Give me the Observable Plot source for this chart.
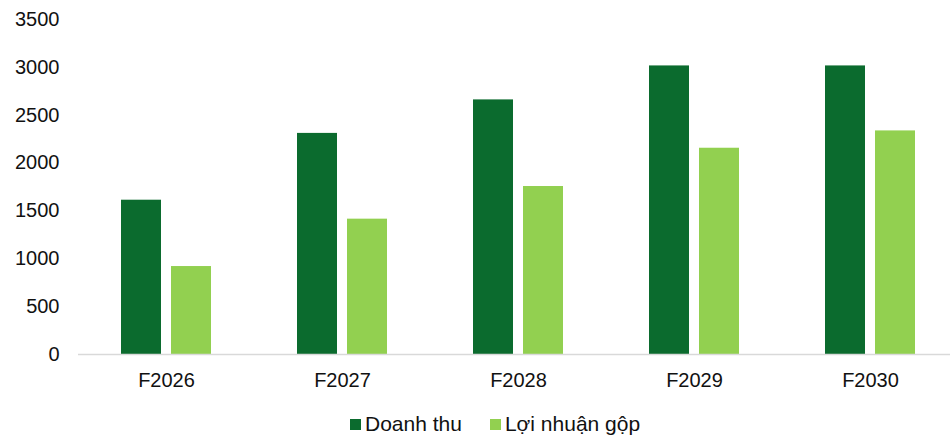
<!DOCTYPE html>
<html>
<head>
<meta charset="utf-8">
<script src="https://cdn.jsdelivr.net/npm/d3@7"></script>
<script src="https://cdn.jsdelivr.net/npm/@observablehq/plot@0.6"></script>
<style>
  html, body { margin: 0; padding: 0; background: #fff; }
  #chart { width: 950px; height: 443px; font-family: "Liberation Sans", Arial, sans-serif; }
  .legend { display: flex; height: 38px; align-items: center; font-size: 21px; color: #111; padding-left: 350px; padding-top: 10px; box-sizing: border-box; }
  .legend .item { display: flex; align-items: center; margin-right: 28px; }
  .legend .sw { width: 11px; height: 11px; margin-right: 4px; display: inline-block; }
</style>
</head>
<body>
<div id="chart"></div>
<script>
const categories = ["F2026", "F2027", "F2028", "F2029", "F2030"];
const seriesNames = ["Doanh thu", "Lợi nhuận gộp"];
const doanhThu = [1612, 2310, 2660, 3015, 3015];
const loiNhuanGop = [919, 1414, 1755, 2155, 2336];
const yTicks = [0, 500, 1000, 1500, 2000, 2500, 3000, 3500];
const colors = ["#0B6B2E", "#92D050"];

const data = categories.flatMap((c, i) => [
  {cat: c, series: seriesNames[0], value: doanhThu[i]},
  {cat: c, series: seriesNames[1], value: loiNhuanGop[i]}
]);

const W = 950, H = 400;
const chart = Plot.plot({
  width: W,
  height: H,
  marginTop: 19,
  marginBottom: H - 354,
  marginLeft: 78,
  marginRight: 0,
  style: {fontFamily: "'Liberation Sans', Arial, sans-serif", fontSize: "20px", color: "#111", background: "#fff"},
  x: {domain: categories, range: [78, 958], padding: 0, label: null},
  y: {domain: [0, 3500], label: null},
  color: {domain: seriesNames, range: colors},
  marks: [
    Plot.axisY({ticks: yTicks, tickFormat: d => String(d), tickSize: 0, tickPadding: 19, label: null, fontSize: 20}),
    Plot.axisX({tickSize: 0, tickPadding: 18, label: null, fontSize: 20}),
    Plot.barY(data.filter(d => d.series === seriesNames[0]), {
      x: "cat", y: "value", fill: colors[0], insetLeft: 43, insetRight: 93
    }),
    Plot.barY(data.filter(d => d.series === seriesNames[1]), {
      x: "cat", y: "value", fill: colors[1], insetLeft: 93, insetRight: 43
    }),
    Plot.ruleY([0], {stroke: "#d9d9d9", strokeWidth: 1.5})
  ]
});
document.getElementById("chart").appendChild(chart);

const legend = document.createElement("div");
legend.className = "legend";
seriesNames.forEach((name, i) => {
  const item = document.createElement("span");
  item.className = "item";
  const sw = document.createElement("span");
  sw.className = "sw";
  sw.style.background = colors[i];
  item.appendChild(sw);
  item.appendChild(document.createTextNode(name));
  legend.appendChild(item);
});
document.getElementById("chart").appendChild(legend);
</script>
</body>
</html>
